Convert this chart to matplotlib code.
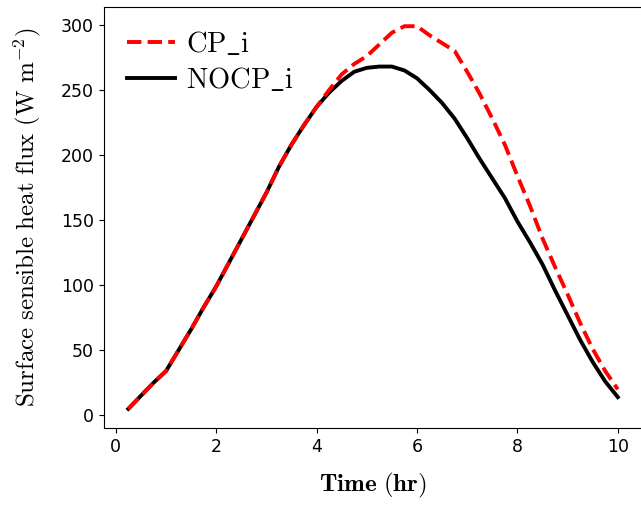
import numpy as np
import matplotlib
matplotlib.use("Agg")
import matplotlib.pyplot as plt

plt.rcParams['mathtext.fontset'] = 'cm'

time_hr = [0.25, 0.5, 0.75, 1.0, 1.25, 1.5, 1.75, 2.0, 2.25, 2.5,
           2.75, 3.0, 3.25, 3.5, 3.75, 4.0, 4.25, 4.5, 4.75, 5.0,
           5.25, 5.5, 5.75, 6.0, 6.25, 6.5, 6.75, 7.0, 7.25, 7.5,
           7.75, 8.0, 8.25, 8.5, 8.75, 9.0, 9.25, 9.5, 9.75, 10.0]

cp_i = [5, 15, 25, 34, 50, 66, 83, 99, 117, 135,
        153, 171, 191, 208, 223, 237, 250, 262, 270, 276,
        285, 294, 299, 299, 292, 286, 280, 264, 247, 228,
        208, 184, 161, 136, 114, 93, 71, 51, 34, 20]

nocp_i = [5, 15, 25, 34, 50, 66, 83, 99, 117, 135,
          153, 171, 191, 208, 223, 237, 248, 257, 264, 267,
          268, 268, 265, 259, 250, 240, 228, 213, 197, 182,
          167, 149, 133, 116, 96, 77, 58, 41, 26, 14]

fig = plt.figure(figsize=(6.41, 5.05), dpi=100)
ax = fig.add_axes([0.162, 0.1525, 0.84, 0.8335])

ax.plot(time_hr, cp_i, color='red', linestyle='--', linewidth=2.8, label=r'$\mathrm{CP\_i}$', zorder=3)
ax.plot(time_hr, nocp_i, color='black', linestyle='-', linewidth=2.8, label=r'$\mathrm{NOCP\_i}$', zorder=2)

ax.set_xticks([0, 2, 4, 6, 8, 10])
ax.set_yticks([0, 50, 100, 150, 200, 250, 300])
ax.tick_params(labelsize=12.5)

ax.set_xlabel(r'$\mathbf{Time}\ \mathbf{(hr)}$', fontsize=18, labelpad=11)
ax.set_ylabel(r'$\mathrm{Surface\ sensible\ heat\ flux\ (W\ m^{-2})}$', fontsize=18, labelpad=13)

ax.legend(loc='upper left', frameon=False, fontsize=20.5, handlelength=1.7,
          borderaxespad=0.4, labelspacing=0.3, handletextpad=0.4)

fig.savefig('out.png', dpi=100)
